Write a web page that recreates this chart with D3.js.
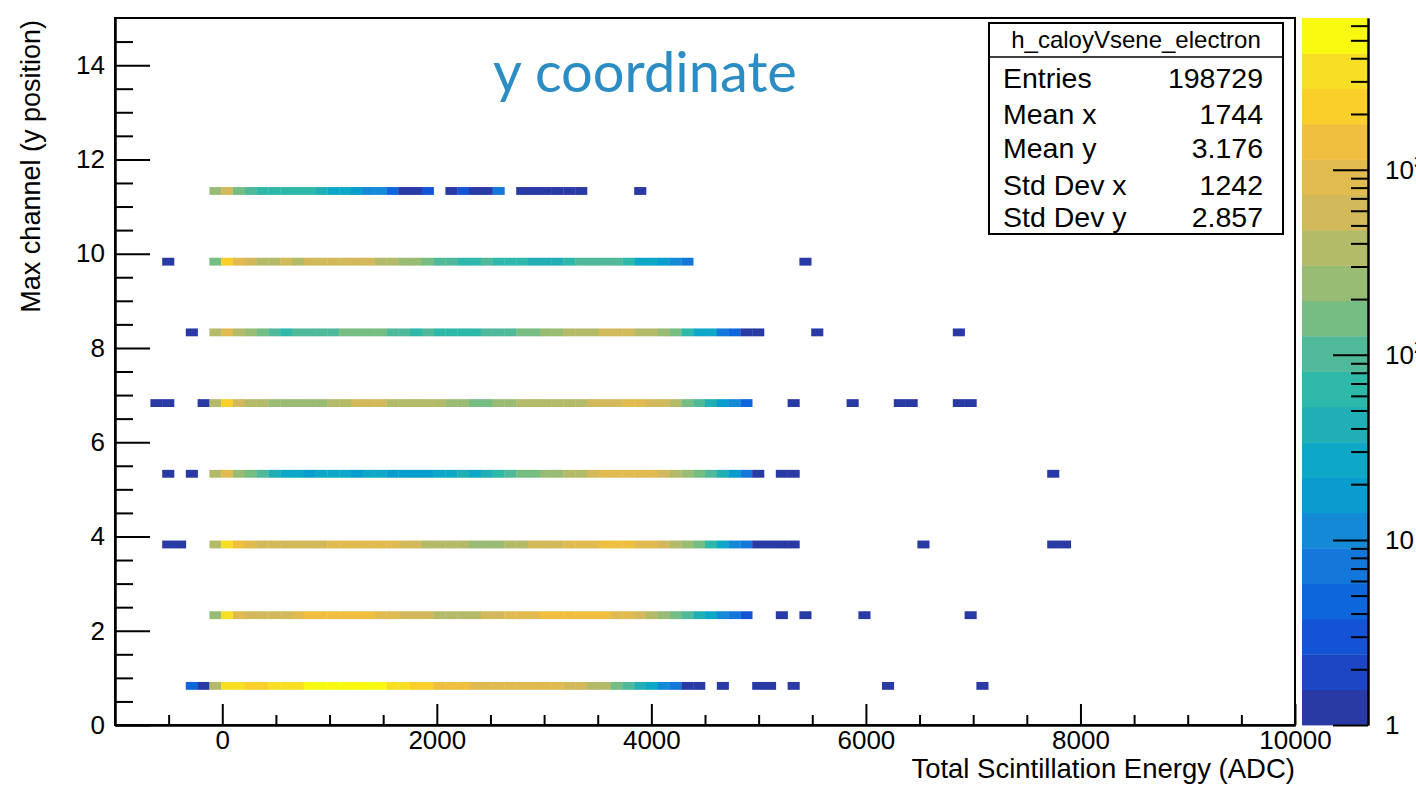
<!DOCTYPE html>
<html>
<head>
<meta charset="utf-8">
<script src="https://cdn.jsdelivr.net/npm/d3@7"></script>
<style>
body { margin:0; background:#fff; overflow:hidden; }
svg { display:block; font-family:"Liberation Sans", Arial, sans-serif; }
</style>
</head>
<body>
<script>
// histogram binning: 100 x bins from -1000 to 10000, y bins 1/6 channel high
var xMin = -1000, xMax = 10000, nBinsX = 100;
var yMin = 0, yMax = 15, binHeightY = 1/6;

// centres of the filled y bins, bottom to top
var rowY = [0.83, 2.33, 3.83, 5.33, 6.83, 8.33, 9.83, 11.33];
// index of the first x bin listed for each row
var rowFirstBin = [6, 8, 4, 4, 3, 6, 4, 8];

// bin contents (entries)
var counts0 = [5, 1, 370, 3350, 3350, 2150, 2150, 3350, 3350, 3350,
  5200, 5200, 5200, 5200, 5200, 5200, 5200, 3350, 3350, 2150, 2150, 1400, 1400, 1400,
  900, 900, 900, 900, 900, 900, 900, 900, 580, 580, 370, 370, 155, 100, 42, 27, 11, 7,
  1, 1, 0, 1, 0, 0, 1, 1, 0, 1, 0, 0, 0, 0, 0, 0, 0, 1, 0, 0, 0, 0, 0, 0, 0, 1];
var counts1 = [240, 3350, 900, 580, 580, 580, 580, 900, 1400, 1400, 1400, 1400, 1400, 1400,
  900, 900, 580, 580, 580, 370, 370, 370, 370, 580, 580, 900, 900, 900,
  1400, 1400, 1400, 1400, 1400, 1400, 900, 900, 580, 370, 240, 155, 100, 42, 27, 11, 7, 3,
  0, 0, 1, 0, 1, 0, 0, 0, 0, 1, 0, 0, 0, 0, 0, 0, 0, 0, 1];
var counts2 = [1, 1, 0, 0, 370, 3350, 1400, 900, 580, 580, 580, 580, 580, 580,
  900, 900, 900, 900, 900, 900, 580, 580, 370, 370, 370, 370, 240, 240, 240, 370, 370,
  580, 580, 580, 900, 900, 900, 1400, 1400, 1400, 900, 900, 580, 370, 240, 155, 65, 27, 11, 7,
  1, 1, 1, 1, 0, 0, 0, 0, 0, 0, 0, 0, 0, 0, 1, 0, 0, 0, 0, 0, 0, 0, 0, 0, 0, 1, 1];
var counts3 = [1, 0, 1, 0, 370, 900, 240, 155, 100, 42, 27, 27, 17, 27, 27, 27, 17, 27, 27,
  17, 17, 17, 17, 27, 27, 42, 27, 42, 65, 100, 155, 155, 240, 240, 370, 370, 580,
  900, 900, 900, 900, 900, 580, 370, 240, 155, 100, 42, 17, 7, 1, 0, 1, 1,
  0, 0, 0, 0, 0, 0, 0, 0, 0, 0, 0, 0, 0, 0, 0, 0, 0, 0, 0, 0, 0, 1];
var counts4 = [1, 1, 0, 0, 1, 370, 2150, 580, 370, 370, 240, 240, 240, 240, 240, 370, 370,
  580, 580, 580, 370, 370, 370, 370, 370, 240, 240, 155, 155, 240, 240,
  370, 370, 370, 370, 370, 370, 580, 580, 580, 900, 900, 580, 580, 370, 155, 100, 42, 17, 11, 5,
  0, 0, 0, 1, 0, 0, 0, 0, 1, 0, 0, 0, 1, 1, 0, 0, 0, 1, 1];
var counts5 = [1, 0, 370, 900, 370, 240, 155, 100, 65, 100, 100, 100, 100, 155, 155, 155, 155,
  100, 100, 65, 100, 65, 65, 65, 65, 100, 100, 100, 155, 155, 240, 240, 370, 370, 370,
  580, 580, 580, 370, 370, 240, 155, 65, 27, 27, 7, 5, 1, 1,
  0, 0, 0, 0, 1, 0, 0, 0, 0, 0, 0, 0, 0, 0, 0, 0, 1];
var counts6 = [1, 0, 0, 0, 155, 2150, 900, 580, 370, 370, 580, 370, 580, 580, 580, 580, 580, 580,
  370, 370, 240, 240, 155, 100, 100, 65, 65, 100, 65, 65, 65, 42, 42, 42, 65,
  100, 100, 100, 100, 65, 27, 27, 17, 11, 7, 0, 0, 0, 0, 0, 0, 0, 0, 0, 1];
var counts7 = [240, 580, 155, 100, 65, 65, 65, 65, 65, 42, 27, 27, 17, 11, 11, 5, 1, 1, 3, 0,
  1, 3, 1, 1, 7, 0, 1, 1, 1, 1, 1, 1, 0, 0, 0, 0, 1];
var rowCounts = [counts0, counts1, counts2, counts3, counts4, counts5, counts6, counts7];

// axes
var xMajorTicks = [0, 2000, 4000, 6000, 8000, 10000];
var yMajorTicks = [0, 2, 4, 6, 8, 10, 12, 14];
var zMax = 6600;
var zMajorTicks = [1, 10, 100, 1000];
var zMinorTicks = [2, 3, 4, 5, 6, 7, 8, 9, 20, 30, 40, 50, 60, 70, 80, 90,
  200, 300, 400, 500, 600, 700, 800, 900, 2000, 3000, 4000, 5000, 6000];
var nContours = 20;
// kBird palette as drawn, one colour per contour, lowest first
var contourColors = ["#2A3AA5", "#1C46C4", "#1354D6", "#0E66DD", "#1378DA", "#148AD6",
  "#099DCD", "#0DA8C8", "#21AEB5", "#2EB8AA", "#4FB999", "#76BD84", "#98BC74", "#B4BB68",
  "#D2B95C", "#E1BB4F", "#F0BF3F", "#FBCF2A", "#F8DF24", "#F9F90F"];

var histName = "h_caloyVsene_electron";
var statLabels = ["Entries", "Mean x", "Mean y", "Std Dev x", "Std Dev y"];
var statValues = ["198729", "1744", "3.176", "1242", "2.857"];

var W = 1416, H = 785;
var padL = 115, padR = 1295, padT = 18, padB = 725;

var svg = d3.select("body").append("svg")
            .attr("width", W)
            .attr("height", H);

var x = d3.scaleLinear().domain([xMin, xMax]).range([padL, padR]);
var y = d3.scaleLinear().domain([yMin, yMax]).range([padB, padT]);
var zColor = d3.scaleQuantize().domain([0, Math.log10(zMax)]).range(contourColors);
var z = d3.scaleLog().domain([1, zMax]).range([padB, padT]);

var binW = (xMax - xMin) / nBinsX;
var cells = [];
rowCounts.forEach(function (arr, r) {
    arr.forEach(function (c, i) {
        if (c > 0) cells.push({bin: rowFirstBin[r] + i, yc: rowY[r], n: c});
    });
});

svg.append("g").selectAll("rect")
   .data(cells)
   .enter().append("rect")
   .attr("x", function (d) { return x(xMin + d.bin * binW); })
   .attr("width", function (d) { return x(xMin + (d.bin + 1) * binW) - x(xMin + d.bin * binW) + 0.3; })
   .attr("y", function (d) { return y(d.yc + binHeightY / 2); })
   .attr("height", function (d) { return y(d.yc - binHeightY / 2) - y(d.yc + binHeightY / 2); })
   .attr("fill", function (d) { return zColor(Math.log10(d.n)); });

// frame
svg.append("rect")
   .attr("x", padL).attr("y", padT)
   .attr("width", padR - padL).attr("height", padB - padT)
   .attr("fill", "none").attr("stroke", "black").attr("stroke-width", 2);

function styleAxis(g) {
    g.select(".domain").attr("stroke", "black").attr("stroke-width", 2);
    g.selectAll(".tick line").attr("stroke", "black").attr("stroke-width", 2);
    g.selectAll("text").attr("font-family", "Liberation Sans, Arial, sans-serif")
     .attr("font-size", 26).attr("fill", "black");
}

// y axis, ticks inside the frame
var yMinor = d3.range(0.5, 15, 0.5).filter(function (v) { return v % 2 !== 0; });
svg.append("g").attr("transform", "translate(" + padL + ",0)")
   .call(d3.axisLeft(y).tickValues(yMinor).tickSizeInner(-18).tickSizeOuter(0).tickFormat(""))
   .call(styleAxis);
svg.append("g").attr("transform", "translate(" + padL + ",0)")
   .call(d3.axisLeft(y).tickValues(yMajorTicks).tickSizeInner(-35).tickSizeOuter(0).tickPadding(10)
         .tickFormat(d3.format("d")))
   .call(styleAxis);

// x axis
var xMinor = d3.range(-500, 10000, 500).filter(function (v) { return v % 2000 !== 0; });
svg.append("g").attr("transform", "translate(0," + padB + ")")
   .call(d3.axisBottom(x).tickValues(xMinor).tickSizeInner(-10).tickSizeOuter(0).tickFormat(""))
   .call(styleAxis);
svg.append("g").attr("transform", "translate(0," + padB + ")")
   .call(d3.axisBottom(x).tickValues(xMajorTicks).tickSizeInner(-21).tickSizeOuter(0).tickPadding(6)
         .tickFormat(d3.format("d")))
   .call(styleAxis);

// axis titles
svg.append("text")
   .attr("x", padR).attr("y", 778)
   .attr("text-anchor", "end")
   .attr("font-size", 27.5)
   .text("Total Scintillation Energy (ADC)");

svg.append("text")
   .attr("transform", "translate(40,20) rotate(-90)")
   .attr("text-anchor", "end")
   .attr("font-size", 27)
   .text("Max channel (y position)");

// title
svg.append("text")
   .attr("x", 645).attr("y", 92)
   .attr("text-anchor", "middle")
   .attr("font-family", "Lato, 'Open Sans', sans-serif")
   .attr("font-size", 56)
   .attr("fill", "#2B8DC4")
   .text("y coordinate");

// colour palette bar
var cbLeft = 1302, cbRight = 1368;
var bandStep = Math.log10(zMax) / nContours;
svg.append("g").selectAll("rect")
   .data(contourColors)
   .enter().append("rect")
   .attr("x", cbLeft)
   .attr("width", cbRight - cbLeft)
   .attr("y", function (d, i) { return z(Math.pow(10, (i + 1) * bandStep)); })
   .attr("height", function (d, i) { return z(Math.pow(10, i * bandStep)) - z(Math.pow(10, (i + 1) * bandStep)) + 0.4; })
   .attr("fill", function (d) { return d; });

svg.append("g").attr("transform", "translate(" + cbRight + ",0)")
   .call(d3.axisRight(z).tickValues(zMinorTicks).tickSizeInner(-17).tickSizeOuter(0).tickFormat(""))
   .call(styleAxis);
var zAxisG = svg.append("g").attr("transform", "translate(" + cbRight + ",0)")
   .call(d3.axisRight(z).tickValues(zMajorTicks).tickSizeInner(-35).tickSizeOuter(0).tickPadding(17)
         .tickFormat(function (d) { return d < 100 ? String(d) : "10"; }))
   .call(styleAxis);
zAxisG.selectAll(".tick text").each(function (d) {
    if (d >= 100) {
        d3.select(this).append("tspan")
          .attr("dy", "-0.6em").attr("font-size", 17)
          .text(String(Math.round(Math.log10(d))));
    }
});

// stats box
var sb = svg.append("g");
sb.append("rect")
  .attr("x", 989).attr("y", 23).attr("width", 294).attr("height", 211)
  .attr("fill", "white").attr("stroke", "black").attr("stroke-width", 2);
sb.append("line")
  .attr("x1", 989).attr("x2", 1283).attr("y1", 57).attr("y2", 57)
  .attr("stroke", "black").attr("stroke-width", 1.5);
sb.append("text")
  .attr("x", 1136).attr("y", 48)
  .attr("text-anchor", "middle").attr("font-size", 24)
  .text(histName);
var statY = [88, 124, 158, 195, 227];
statLabels.forEach(function (s, i) {
    sb.append("text").attr("x", 1003).attr("y", statY[i])
      .attr("font-size", 28.5).text(s);
    sb.append("text").attr("x", 1263).attr("y", statY[i])
      .attr("text-anchor", "end").attr("font-size", 28.5).text(statValues[i]);
});
</script>
</body>
</html>
